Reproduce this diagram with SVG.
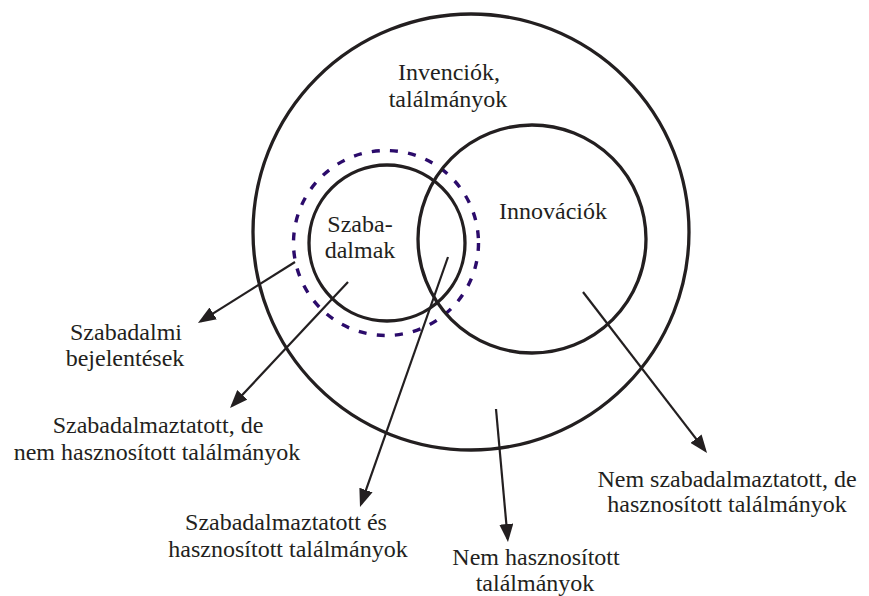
<svg xmlns="http://www.w3.org/2000/svg" width="869" height="596" viewBox="0 0 869 596">
<style>
  .c { fill: none; stroke: #231f20; stroke-width: 3.3; }
  .d { fill: none; stroke: #2b0b6b; stroke-width: 3.4; stroke-dasharray: 8 10.3; }
  .a { stroke: #231f20; stroke-width: 2.2; fill: none; marker-end: url(#ah); }
  .t { font-family: Liberation Serif, Times New Roman, Times, serif; font-size: 24px; fill: #231f20; text-anchor: middle; }
</style>
<defs>
  <marker id="ah" markerUnits="userSpaceOnUse" markerWidth="18" markerHeight="14" refX="15" refY="7" orient="auto">
    <path d="M0,0 L18,7 L0,14 Z" fill="#231f20"/>
  </marker>
</defs>
<rect width="869" height="596" fill="#ffffff"/>
<g id="inventions">
  <circle class="c" cx="471" cy="232" r="218"/>
  <text class="t" x="449" y="80">Invenciók,</text>
  <text class="t" x="448" y="107">találmányok</text>
</g>
<g id="applications">
  <circle class="d" cx="386" cy="243" r="92.5"/>
</g>
<g id="patents">
  <circle class="c" cx="387" cy="243" r="78"/>
  <text class="t" x="360" y="232">Szaba-</text>
  <text class="t" x="360" y="258">dalmak</text>
</g>
<g id="innovations">
  <circle class="c" cx="532" cy="239" r="114"/>
  <text class="t" x="553" y="219">Innovációk</text>
</g>
<g id="connectors">
  <line class="a" x1="295" y1="262" x2="200.5" y2="321.4"/>
  <line class="a" x1="348" y1="282" x2="232.1" y2="405.8"/>
  <line class="a" x1="448" y1="257" x2="361" y2="504.2"/>
  <line class="a" x1="496" y1="409" x2="507.7" y2="539"/>
  <line class="a" x1="583" y1="292" x2="705.2" y2="450.6"/>
</g>
<g id="label-applications">
  <text class="t" x="126" y="340">Szabadalmi</text>
  <text class="t" x="125" y="366">bejelentések</text>
</g>
<g id="label-patented-unused">
  <text class="t" x="158" y="433">Szabadalmaztatott, de</text>
  <text class="t" x="157" y="460">nem hasznosított találmányok</text>
</g>
<g id="label-patented-used">
  <text class="t" x="286" y="530">Szabadalmaztatott és</text>
  <text class="t" x="288" y="557">hasznosított találmányok</text>
</g>
<g id="label-unused">
  <text class="t" x="536" y="565">Nem hasznosított</text>
  <text class="t" x="535" y="591">találmányok</text>
</g>
<g id="label-unpatented-used">
  <text class="t" x="727" y="487">Nem szabadalmaztatott, de</text>
  <text class="t" x="727" y="512">hasznosított találmányok</text>
</g>
</svg>
